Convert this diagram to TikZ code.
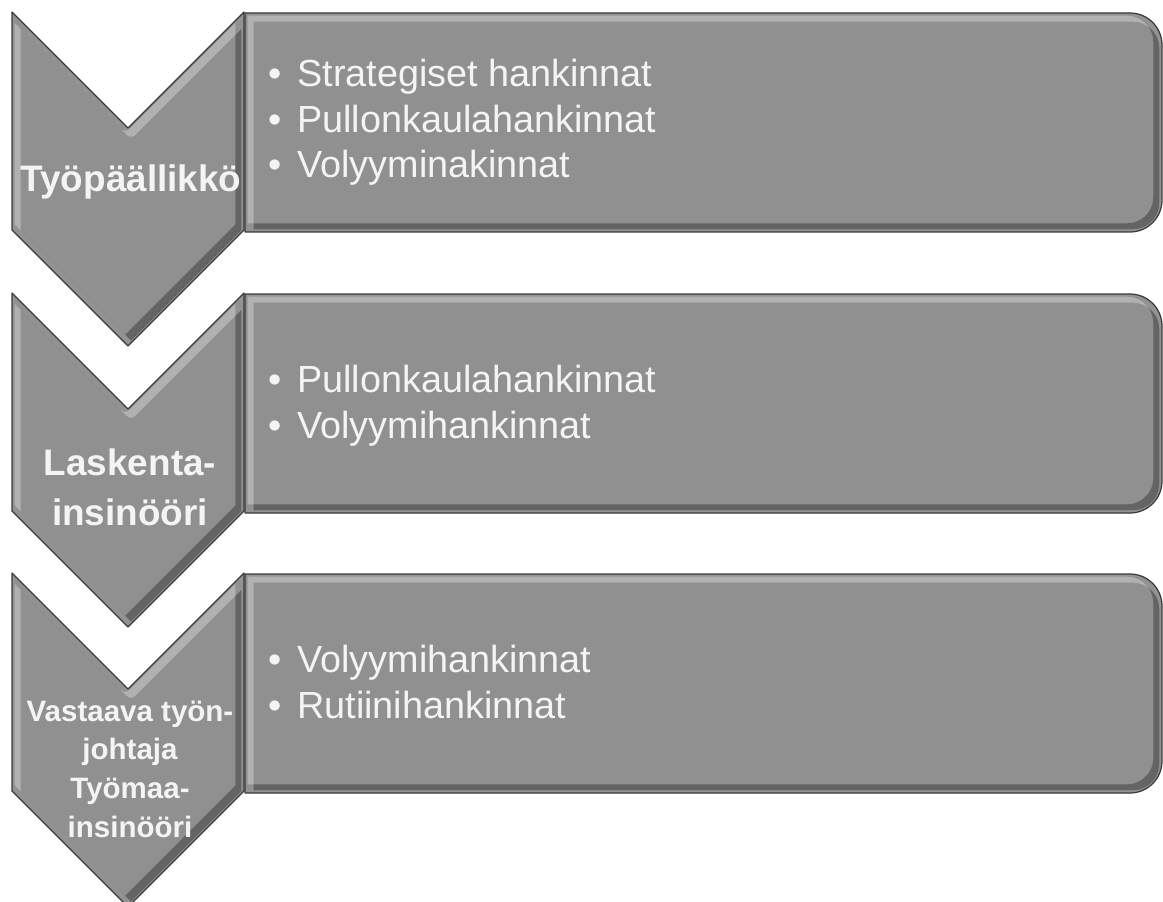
\documentclass[tikz,border=0pt]{standalone}
\usepackage{fontspec}
\setmainfont{Liberation Sans}
\definecolor{boxgray}{HTML}{909090}
\definecolor{edgegray}{HTML}{3A3A3A}
\definecolor{txtwhite}{HTML}{F4F4F4}
% muodot (y = rivin yläreuna)
\newcommand\chevpath[1]{(12,#1) -- (128,#1+116) -- (244,#1) -- (244,#1+218) -- (128,#1+334) -- (12,#1+218) -- cycle}
\newcommand\panelpath[1]{(245,#1+1) [rounded corners=0.64cm] -- (1162,#1+1) -- (1162,#1+220) [sharp corners] -- (245,#1+220) -- cycle}
\newcommand\embossed[1]{%
	\fill[boxgray] #1;
	\begin{scope}
		\clip #1;
		\draw[black,opacity=.3,line width=6.5pt,shift={(-3,-3)}] #1;
		\draw[white,opacity=.3,line width=6.5pt,shift={(3,3)}] #1;
	\end{scope}
	\draw[edgegray,line width=0.7pt] #1;}
\newcommand\bul{\llap{\textbullet\hspace{9pt}}}
\begin{document}
\begin{tikzpicture}[x=0.02cm,y=-0.02cm,line join=round,
		item/.style={anchor=base west,inner sep=0pt,text=txtwhite,font=\fontsize{21.5}{25.9}\selectfont},
		role/.style={anchor=base,inner sep=0pt,align=center,text=txtwhite,font=\bfseries\fontsize{21}{28}\selectfont}]
	\useasboundingbox (0,0) rectangle (1163,902);
	\clip (0,0) rectangle (1163,902);
	% rivi 1
	\embossed{\panelpath{12}}
	\embossed{\chevpath{12}}
	\node[role] (role1) at (131,192) {Työpäällikkö};
	\node[item] (h11) at (297,87) {\bul Strategiset hankinnat};
	\node[item] (h12) at (297,133) {\bul Pullonkaulahankinnat};
	\node[item] (h13) at (297,178) {\bul Volyyminakinnat};
	% rivi 2
	\embossed{\panelpath{293}}
	\embossed{\chevpath{293}}
	\node[role] (role2) at (130,525) {Laskenta-\\insinööri};
	\node[item] (h21) at (297,392) {\bul Pullonkaulahankinnat};
	\node[item] (h22) at (297,438) {\bul Volyymihankinnat};
	% rivi 3
	\embossed{\panelpath{573}}
	\embossed{\chevpath{573}}
	\node[role,font=\bfseries\fontsize{16.8}{22}\selectfont] (role3) at (130,837) {Vastaava työn-\\johtaja\\Työmaa-\\insinööri};
	\node[item] (h31) at (297,672) {\bul Volyymihankinnat};
	\node[item] (h32) at (297,718) {\bul Rutiinihankinnat};
\end{tikzpicture}
\end{document}
